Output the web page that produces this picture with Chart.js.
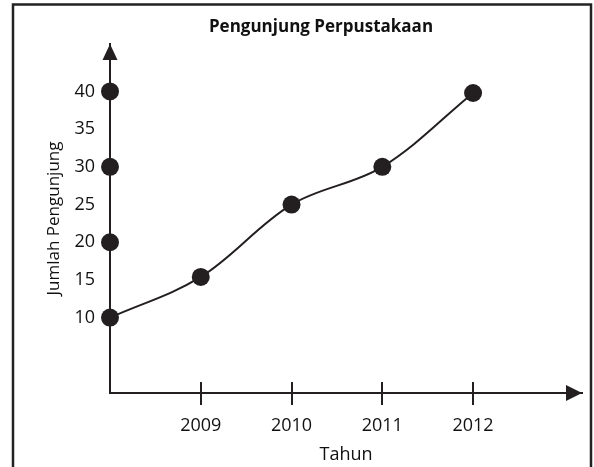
<!DOCTYPE html>
<html lang="id">
<head>
<meta charset="UTF-8">
<title>Pengunjung Perpustakaan</title>
<script src="https://cdn.jsdelivr.net/npm/chart.js"></script>
<style>
  html, body { margin: 0; padding: 0; background: #fff; }
  #wrap { width: 594px; height: 467px; }
</style>
</head>
<body>
<div id="wrap"><canvas id="grafik" width="594" height="467"></canvas></div>
<script>
// data
const tahun = [2008, 2009, 2010, 2011, 2012];
const pengunjung = [10, 15.4, 25, 30, 39.8];
const titikSumbuY = [20, 30, 40];
const labelY = [10, 15, 20, 25, 30, 35, 40];
const labelX = [2009, 2010, 2011, 2012];

const hitam = '#231f20';
const huruf = "'Open Sans', sans-serif";

// garis tepi, judul, panah dan tanda tik sumbu x
const hiasan = {
  id: 'hiasan',
  beforeDraw(chart) {
    const ctx = chart.ctx;
    ctx.save();
    ctx.strokeStyle = '#222';
    ctx.lineWidth = 2.5;
    ctx.strokeRect(13, 4.5, 578, 520);
    ctx.fillStyle = '#111';
    ctx.font = "bold 17px " + huruf;
    ctx.textAlign = 'center';
    ctx.textBaseline = 'middle';
    ctx.fillText('Pengunjung Perpustakaan', 321, 27);
    ctx.restore();
  },
  afterDraw(chart) {
    const ctx = chart.ctx;
    const a = chart.chartArea;
    const sx = chart.scales.x;
    ctx.save();
    ctx.fillStyle = hitam;
    ctx.strokeStyle = hitam;
    ctx.lineWidth = 2;
    // panah sumbu y
    ctx.beginPath();
    ctx.moveTo(a.left, a.top);
    ctx.lineTo(a.left - 7.5, a.top + 16);
    ctx.lineTo(a.left + 7.5, a.top + 16);
    ctx.closePath();
    ctx.fill();
    // panah sumbu x
    ctx.beginPath();
    ctx.moveTo(a.right, a.bottom);
    ctx.lineTo(a.right - 16, a.bottom - 8);
    ctx.lineTo(a.right - 16, a.bottom + 8);
    ctx.closePath();
    ctx.fill();
    // tanda tik
    labelX.forEach(t => {
      const px = Math.round(sx.getPixelForValue(t));
      ctx.beginPath();
      ctx.moveTo(px, a.bottom - 11);
      ctx.lineTo(px, a.bottom + 12);
      ctx.stroke();
    });
    ctx.restore();
  }
};

new Chart(document.getElementById('grafik'), {
  type: 'line',
  data: {
    datasets: [{
      data: tahun.map((t, i) => ({ x: t, y: pengunjung[i] })),
      borderColor: hitam,
      borderWidth: 2,
      backgroundColor: hitam,
      pointBackgroundColor: hitam,
      pointBorderWidth: 0,
      pointRadius: 9,
      tension: 0.35,
      clip: false
    }, {
      data: titikSumbuY.map(v => ({ x: tahun[0], y: v })),
      showLine: false,
      pointBackgroundColor: hitam,
      pointBorderWidth: 0,
      pointRadius: 9,
      clip: false
    }]
  },
  options: {
    responsive: false,
    animation: false,
    events: [],
    layout: { padding: { left: 14, right: 12, top: 44, bottom: 0 } },
    plugins: { legend: { display: false }, tooltip: { enabled: false } },
    scales: {
      x: {
        type: 'linear',
        min: 2008,
        max: 2013.2,
        afterBuildTicks: s => { s.ticks = labelX.map(v => ({ value: v })); },
        afterFit: s => { s.height = 74; },
        grid: { drawOnChartArea: false, drawTicks: false },
        border: { color: hitam, width: 2 },
        ticks: {
          color: '#111',
          padding: 22,
          font: { family: huruf, size: 18 },
          callback: v => String(v)
        },
        title: {
          display: true,
          text: 'Tahun',
          color: '#111',
          font: { family: huruf, size: 18 },
          padding: { top: 4, bottom: 1 }
        }
      },
      y: {
        min: 0,
        max: 46.3,
        afterBuildTicks: s => { s.ticks = labelY.map(v => ({ value: v })); },
        afterFit: s => { s.width = 96; },
        grid: { drawOnChartArea: false, drawTicks: false },
        border: { color: hitam, width: 2 },
        ticks: {
          color: '#111',
          padding: 15,
          font: { family: huruf, size: 18 }
        },
        title: {
          display: true,
          text: 'Jumlah Pengunjung',
          color: '#111',
          font: { family: huruf, size: 17 },
          padding: { top: 30, bottom: 0 }
        }
      }
    }
  },
  plugins: [hiasan]
});
</script>
</body>
</html>
